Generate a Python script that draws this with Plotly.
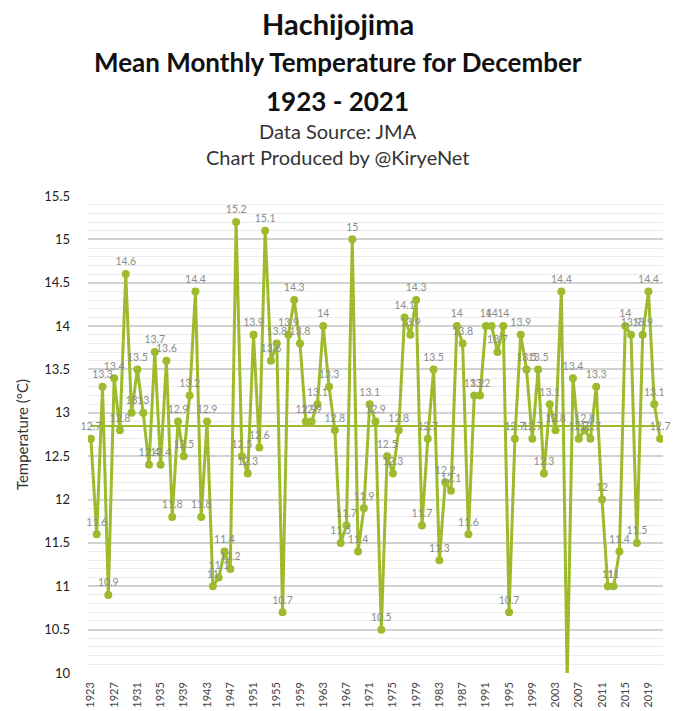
import numpy as np
import plotly.graph_objects as go

years = list(range(1923, 2022))
temps = [
    12.7, 11.6, 13.3, 10.9, 13.4, 12.8, 14.6, 13.0, 13.5, 13.0,
    12.4, 13.7, 12.4, 13.6, 11.8, 12.9, 12.5, 13.2, 14.4, 11.8,
    12.9, 11.0, 11.1, 11.4, 11.2, 15.2, 12.5, 12.3, 13.9, 12.6,
    15.1, 13.6, 13.8, 10.7, 13.9, 14.3, 13.8, 12.9, 12.9, 13.1,
    14.0, 13.3, 12.8, 11.5, 11.7, 15.0, 11.4, 11.9, 13.1, 12.9,
    10.5, 12.5, 12.3, 12.8, 14.1, 13.9, 14.3, 11.7, 12.7, 13.5,
    11.3, 12.2, 12.1, 14.0, 13.8, 11.6, 13.2, 13.2, 14.0, 14.0,
    13.7, 14.0, 10.7, 12.7, 13.9, 13.5, 12.7, 13.5, 12.3, 13.1,
    12.8, 14.4, 9.9, 13.4, 12.7, 12.8, 12.7, 13.3, 12.0, 11.0,
    11.0, 11.4, 14.0, 13.9, 11.5, 13.9, 14.4, 13.1, 12.7,
]
xtick_years = list(range(1923, 2022, 4))

Y_MIN, Y_MAX = 10, 15.5
in_range = [v >= Y_MIN for v in temps]
lab_x = [y for y, ok in zip(years, in_range) if ok]
lab_y = [v for v, ok in zip(temps, in_range) if ok]
lab_t = [f"{v:g}" for v in lab_y]

coef = np.polyfit(years, temps, 1)
trend = np.polyval(coef, [years[0], years[-1]])

GREEN = "#9dbb2c"

fig = go.Figure()
fig.add_trace(go.Scatter(
    x=[years[0], years[-1]], y=trend, mode="lines",
    line=dict(color=GREEN, width=2), hoverinfo="skip", showlegend=False,
))
fig.add_trace(go.Scatter(
    x=years, y=temps, mode="lines+markers",
    line=dict(color=GREEN, width=3),
    marker=dict(color=GREEN, size=8),
    showlegend=False,
))
fig.add_trace(go.Scatter(
    x=lab_x, y=lab_y, mode="markers+text",
    marker=dict(size=8, opacity=0),
    text=lab_t, textposition="top center",
    textfont=dict(family="Lato", size=10.5, color="#8c8c8c"),
    cliponaxis=False, hoverinfo="skip", showlegend=False,
))

W, H = 675, 711
top, bottom = 196, 673
left, right = 88, 663

def py(pix):
    return (bottom - pix) / (bottom - top)

titles = [
    ("Hachijojima", 23, 29, True),
    ("Mean Monthly Temperature for December", 62, 26, True),
    ("1923 - 2021", 101, 26, True),
    ("Data Source: JMA", 131, 20, False),
    ("Chart Produced by @KiryeNet", 157, 20, False),
]
annotations = []
for txt, pix, size, bold in titles:
    annotations.append(dict(
        text=f"<b>{txt}</b>" if bold else txt,
        x=0.5, xref="paper", xanchor="center",
        y=py(pix), yref="paper", yanchor="middle",
        xshift=(W / 2 - (left + right) / 2),
        showarrow=False,
        font=dict(family="Lato", size=size, color="#111111" if bold else "#333333"),
    ))

fig.update_layout(
    width=W, height=H,
    margin=dict(l=left, r=W - right, t=top, b=H - bottom, autoexpand=False),
    paper_bgcolor="white", plot_bgcolor="white",
    annotations=annotations,
    xaxis=dict(
        range=[1922.5, 2021.5],
        tickvals=xtick_years,
        ticktext=[str(y) for y in xtick_years],
        tickangle=-90,
        tickfont=dict(family="Lato", size=11, color="#444444"),
        ticklabelstandoff=6,
        showgrid=False, zeroline=False, showline=False, ticks="",
        automargin=False,
    ),
    yaxis=dict(
        range=[Y_MIN, Y_MAX],
        dtick=0.5,
        tickfont=dict(family="Lato", size=13, color="#222222"),
        ticklabelstandoff=17,
        gridcolor="#d2d2d2", gridwidth=1.5,
        minor=dict(dtick=0.1, showgrid=True, gridcolor="#ebebeb", gridwidth=1),
        zeroline=False, showline=False, ticks="",
        automargin=False,
        title=dict(text="Temperature (°C)", font=dict(family="Lato", size=15, color="#333333"), standoff=12),
    ),
)

fig.write_html("out.html", config={"displayModeBar": False},
               post_script="document.body.style.margin='0px';")
